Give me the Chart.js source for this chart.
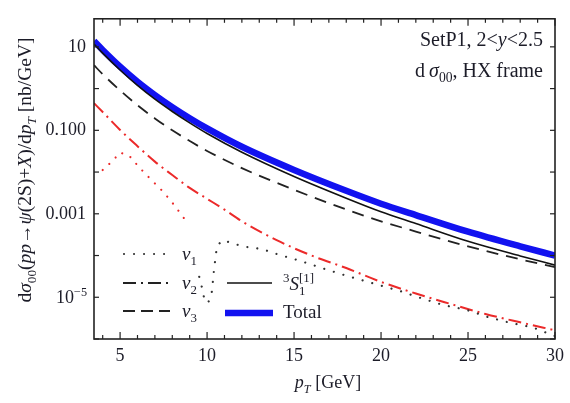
<!DOCTYPE html>
<html>
<head>
<meta charset="utf-8">
<script src="https://cdn.jsdelivr.net/npm/chart.js@4.4.0/dist/chart.umd.min.js"></script>
<style>
  html, body { margin: 0; background: #fff; }
</style>
</head>
<body>
<canvas id="chart" width="570" height="403"></canvas>
<script>
// pT grid (GeV) for the smooth curves
const ptMain = [3.5, 4, 5, 6, 7, 8, 9, 10, 12, 15, 18, 20, 22, 25, 28, 30];
const total  = [13.8, 8.41, 3.35, 1.46, 0.700, 0.359, 0.195, 0.111, 0.0403, 0.0112, 0.00355, 0.00174, 0.000933, 0.000372, 0.000166, 0.000100];
const s3s1   = [11.7, 7.08, 2.79, 1.19, 0.556, 0.282, 0.151, 0.0841, 0.0299, 0.00785, 0.00237, 0.00112, 0.000582, 0.000219, 0.0000977, 0.0000589];
const nu3    = [3.63, 2.21, 0.902, 0.398, 0.193, 0.100, 0.0556, 0.0320, 0.01245, 0.00376, 0.00127, 0.000661, 0.000376, 0.000166, 0.0000813, 0.0000525];

// nu2 (negative, shown as |value|)
const ptNu2 = [3.5, 4, 5, 6, 7, 8, 9, 10, 11, 12, 14, 16, 18, 20, 22, 24, 26, 28, 30];
const nu2   = [0.447, 0.275, 0.102, 0.0417, 0.0178, 0.00851, 0.00417, 0.00229, 0.00126, 0.000661, 0.000234, 0.000100, 0.0000501, 0.0000234, 0.0000123, 0.00000692, 0.00000398, 0.00000251, 0.00000162];

// nu1: negative part (red) and positive part (black)
const ptNu1Neg = [4.0, 4.55, 5.0, 5.57, 6.0, 6.4, 6.9, 7.4, 7.8, 8.2, 8.6, 9.0];
const nu1Neg   = [0.0112, 0.0182, 0.0295, 0.0234, 0.0145, 0.00955, 0.00589, 0.00363, 0.00234, 0.00145, 0.000851, 0.000550];
const ptNu1Pos = [9.55, 9.72, 9.83, 10.06, 10.28, 10.4, 10.57, 10.9, 11.53, 12.2, 12.8, 13.4, 14.1, 15.3, 16.6, 17.9, 19.8, 21.0, 22.3, 23.6, 24.9, 26.1, 27.3, 28.7, 30];
const nu1Pos   = [3.09e-5, 1.62e-5, 9.55e-6, 7.24e-6, 1.38e-5, 4.68e-5, 1.70e-4, 2.34e-4, 1.91e-4, 1.62e-4, 1.51e-4, 1.32e-4, 1.05e-4, 7.59e-5, 5.01e-5, 3.39e-5, 2.00e-5, 1.45e-5, 9.55e-6, 6.46e-6, 5.01e-6, 3.39e-6, 2.51e-6, 1.91e-6, 1.17e-6];

const xTicks = [5, 10, 15, 20, 25, 30];
const yTicks = [10, 1, 0.1, 0.01, 0.001, 1e-4, 1e-5, 1e-6];
const yLabels = {10: '10', 0.1: '0.100', 0.001: '0.001'};

const FONT = '"Liberation Serif", "DejaVu Serif", serif';
const INK = '#1c1c28';
const RED = 'rgb(236,42,42)';
const BLUE = 'rgb(18,18,240)';

const pts = (xs, ys) => xs.map((x, i) => ({x, y: ys[i]}));

// draw text made of runs (italic / sub / sup)
function richText(ctx, parts, x, y, size, dry) {
  let cx = x;
  for (const p of parts) {
    const s = (p.sub || p.sup) ? size * 0.68 : size;
    ctx.font = (p.it ? 'italic ' : '') + s + 'px ' + FONT;
    const dy = p.sub ? size * 0.26 : p.sup ? -size * 0.4 : 0;
    if (!dry) ctx.fillText(p.t, cx, y + dy);
    if (!p.stay) cx += ctx.measureText(p.t).width;
  }
  return cx - x;
}

function seg(ctx, x1, y1, x2, y2) {
  ctx.beginPath(); ctx.moveTo(x1, y1); ctx.lineTo(x2, y2); ctx.stroke();
}

const decorations = {
  id: 'decorations',
  afterDatasetsDraw(chart) {
    const {ctx, chartArea: a, scales: {x, y}} = chart;
    ctx.save();
    ctx.strokeStyle = '#222';
    ctx.lineWidth = 1.2;
    for (let v = 4; v <= 30; v++) {
      const px = x.getPixelForValue(v);
      const len = v % 5 === 0 ? 7 : 4;
      seg(ctx, px, a.bottom, px, a.bottom - len);
      seg(ctx, px, a.top, px, a.top + len);
    }
    yTicks.forEach(v => {
      const py = y.getPixelForValue(v);
      seg(ctx, a.left, py, a.left + 5, py);
      seg(ctx, a.right, py, a.right - 5, py);
    });
    ctx.lineWidth = 1.6;
    ctx.strokeRect(a.left, a.top, a.right - a.left, a.bottom - a.top);

    ctx.fillStyle = INK;
    ctx.textBaseline = 'alphabetic';
    ctx.textAlign = 'left';

    // 10^-5 tick label
    const p5 = y.getPixelForValue(1e-5);
    const lab5 = [{t: '10'}, {t: '\u22125', sup: 1}];
    const w5 = richText(ctx, lab5, 0, 0, 18, true);
    richText(ctx, lab5, a.left - 7 - w5, p5 + 6, 18);

    // top-right annotation
    const l1 = [{t: 'SetP1, 2<'}, {t: 'y', it: 1}, {t: '<2.5'}];
    const l2 = [{t: 'd\u2009'}, {t: '\u03c3', it: 1}, {t: '00', sub: 1}, {t: ', HX frame'}];
    const w1 = richText(ctx, l1, 0, 0, 20, true);
    richText(ctx, l1, 543 - w1, 46, 20);
    const w2 = richText(ctx, l2, 0, 0, 20, true);
    richText(ctx, l2, 543 - w2, 77, 20);

    // x-axis title
    const xt = [{t: 'p', it: 1}, {t: 'T', it: 1, sub: 1}, {t: ' [GeV]'}];
    const wx = richText(ctx, xt, 0, 0, 18, true);
    richText(ctx, xt, 328 - wx / 2, 388, 18);

    // y-axis title
    const yt = [{t: 'd'}, {t: '\u03c3', it: 1}, {t: '00', sub: 1}, {t: '('}, {t: 'pp', it: 1},
      {t: '\u2192'}, {t: '\u03c8', it: 1}, {t: '(2S)+'}, {t: 'X', it: 1}, {t: ')/d'},
      {t: 'p', it: 1}, {t: 'T', it: 1, sub: 1}, {t: ' [nb/GeV]'}];
    const wy = richText(ctx, yt, 0, 0, 19.5, true);
    ctx.save();
    ctx.translate(31, 170);
    ctx.rotate(-Math.PI / 2);
    richText(ctx, yt, -wy / 2, 0, 19.5);
    ctx.restore();

    // legend
    const sample = (x1, x2, yy, color, width, dash, cap) => {
      ctx.save();
      ctx.strokeStyle = color; ctx.lineWidth = width;
      ctx.setLineDash(dash); ctx.lineCap = cap || 'butt';
      seg(ctx, x1, yy, x2, yy);
      ctx.restore();
    };
    sample(124, 166, 254, '#222', 2, [0.01, 10], 'round');
    sample(123, 170, 283, '#222', 1.8, [13, 5, 2, 5]);
    sample(123, 170, 311, '#222', 1.8, [12, 6]);
    sample(227, 272, 283, '#111', 1.6, []);
    sample(225, 273, 313, BLUE, 6.5, []);
    ctx.fillStyle = INK;
    richText(ctx, [{t: '\u03bd', it: 1}, {t: '1', sub: 1}], 182, 260, 19);
    richText(ctx, [{t: '\u03bd', it: 1}, {t: '2', sub: 1}], 182, 289, 19);
    richText(ctx, [{t: '\u03bd', it: 1}, {t: '3', sub: 1}], 182, 317, 19);
    richText(ctx, [{t: '3', sup: 1}, {t: 'S', it: 1}, {t: '1', sub: 1, stay: 1}, {t: '[1]', sup: 1}], 283, 290, 19);
    richText(ctx, [{t: 'Total'}], 283, 318, 19);
    ctx.restore();
  }
};

new Chart(document.getElementById('chart'), {
  type: 'line',
  data: {
    datasets: [
      {label: 'nu1 (neg)', data: pts(ptNu1Neg, nu1Neg), borderColor: RED, borderWidth: 2.2,
        borderDash: [0.01, 9], borderCapStyle: 'round', order: 1},
      {label: 'nu1', data: pts(ptNu1Pos, nu1Pos), borderColor: '#333', borderWidth: 2.2,
        borderDash: [0.01, 10], borderCapStyle: 'round', order: 1},
      {label: 'nu2', data: pts(ptNu2, nu2), borderColor: RED, borderWidth: 2,
        borderDash: [13, 5, 2, 5], cubicInterpolationMode: 'monotone', order: 2},
      {label: 'nu3', data: pts(ptMain, nu3), borderColor: '#222', borderWidth: 1.8,
        borderDash: [12, 8], cubicInterpolationMode: 'monotone', order: 3},
      {label: '3S1[1]', data: pts(ptMain, s3s1), borderColor: '#111', borderWidth: 1.6,
        cubicInterpolationMode: 'monotone', order: 4},
      {label: 'Total', data: pts(ptMain, total), borderColor: BLUE, borderWidth: 6.5,
        cubicInterpolationMode: 'monotone', order: 5}
    ]
  },
  options: {
    responsive: false,
    animation: false,
    layout: {padding: {left: 0, top: 9, right: 7, bottom: 0}},
    elements: {point: {radius: 0}, line: {fill: false, tension: 0}},
    plugins: {legend: {display: false}, tooltip: {enabled: false}},
    scales: {
      x: {
        type: 'linear', min: 3.5, max: 30,
        afterBuildTicks: s => { s.ticks = xTicks.map(v => ({value: v})); },
        afterFit: s => { s.height = 64; },
        grid: {display: false, drawTicks: false},
        border: {display: false},
        ticks: {color: INK, font: {family: FONT, size: 18}, padding: 6, maxRotation: 0}
      },
      y: {
        type: 'logarithmic', min: 1e-6, max: 47,
        afterBuildTicks: s => { s.ticks = yTicks.map(v => ({value: v})); },
        afterFit: s => { s.width = 94; },
        grid: {display: false, drawTicks: false},
        border: {display: false},
        ticks: {color: INK, font: {family: FONT, size: 18}, padding: 8,
          callback: v => yLabels[v] || ''}
      }
    }
  },
  plugins: [decorations]
});
</script>
</body>
</html>
